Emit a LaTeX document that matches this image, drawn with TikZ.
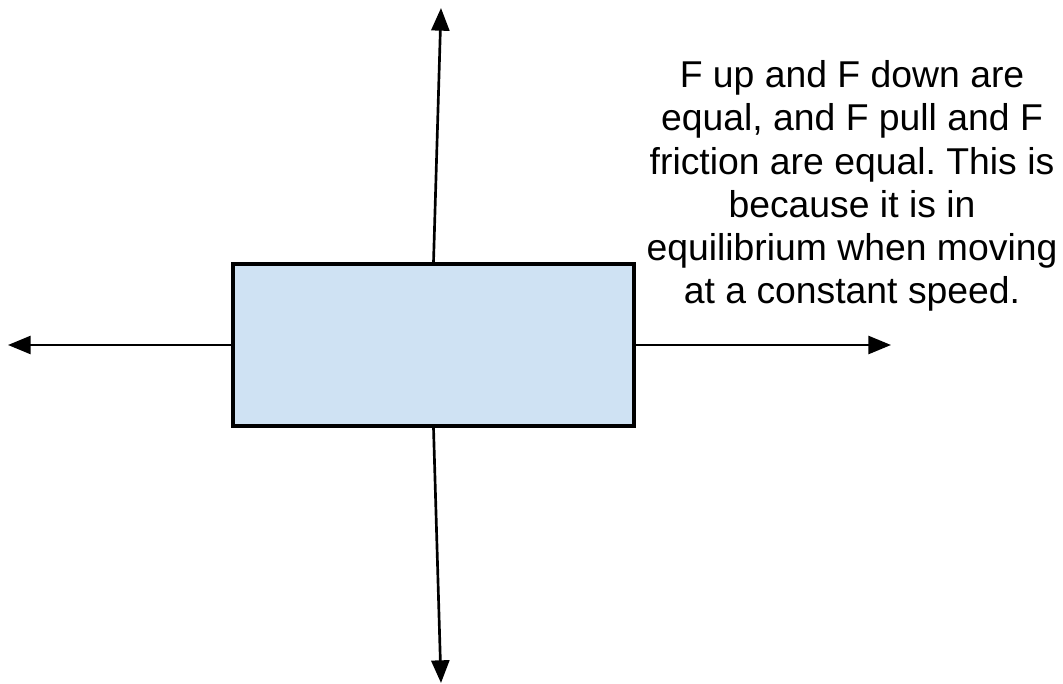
\documentclass[tikz,border=0pt]{standalone}
\usepackage{fontspec}
\setmainfont{Liberation Sans}
\usetikzlibrary{arrows.meta}
\definecolor{boxfill}{HTML}{CFE2F3}
\tikzset{
  force/.style={line width=2pt, -{Triangle[length=17pt,width=13.5pt]}},
  body/.style={draw=black, line width=2.4pt, fill=boxfill, inner sep=0pt, minimum width=401*0.75pt, minimum height=162*0.75pt},
  note/.style={align=center, font=\fontsize{28}{32.4}\selectfont, inner sep=0pt}
}
\frenchspacing
\begin{document}
\begin{tikzpicture}[x=0.75pt,y=-0.75pt]
\useasboundingbox (0,0) rectangle (1063,684);
\node[body] (box) at (433.5,345) {};
\coordinate (up) at (441,8);
\coordinate (down) at (441,683);
\coordinate (left) at (8,345);
\coordinate (right) at (891,345);
\draw[force] (box.north) -- (up);
\draw[force] (box.south) -- (down);
\draw[force] (box.west) -- (left);
\draw[force] (box.east) -- (right);
\node[note] (txt) at (852,186) {F up and F down are\\equal, and F pull and F\\friction are equal. This is\\because it is in\\equilibrium when moving\\at a constant speed.};
\end{tikzpicture}
\end{document}
